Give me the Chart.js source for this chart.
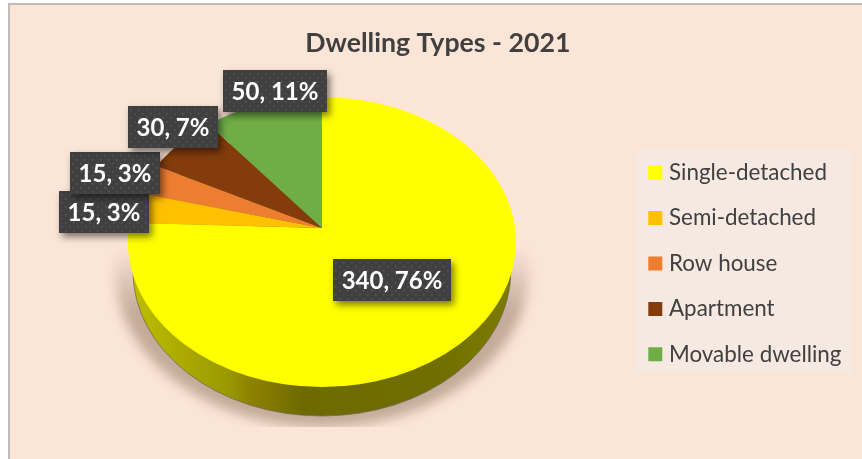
<!DOCTYPE html>
<html>
<head>
<meta charset="utf-8">
<title>Dwelling Types - 2021</title>
<script src="https://cdn.jsdelivr.net/npm/chart.js@4"></script>
<style>
	html, body { margin: 0; padding: 0; background: #fff; }
	canvas { display: block; }
</style>
</head>
<body>
<canvas id="dwellingChart" width="862" height="459"></canvas>
<script>
var categories = ['Single-detached', 'Semi-detached', 'Row house', 'Apartment', 'Movable dwelling'];
var dwellings = [340, 15, 15, 30, 50];
var sliceColors = ['#FFFF00', '#FFC000', '#ED7D31', '#843C0C', '#70AD47'];

var FONT = 'Lato, "Open Sans", sans-serif';

// tilt of the pie: wedges fan out of the apex, the rim is a separate ellipse around it
var tilt = {
	apexShiftX: -5, apexShiftY: -35.5, wedgeRx: 242, wedgeRy: 186,
	rimRx: 194, rimRy: 145, rimDropY: 14,
	wallDepth: 29, wallRx: 189
};
// label box, moved from its spot along the slice's mid angle
var labelReach = [0.4, 0.7, 0.9, 0.8, 0.7];
var labelNudge = [[3, -1.5], [-50, 2], [-2, 2], [3.5, -9], [11, -15]];

function apexOf(arc) {
	return { x: arc.x + tilt.apexShiftX, y: arc.y + tilt.apexShiftY };
}

var backgroundPlugin = {
	id: 'background',
	beforeDraw: function (chart) {
		var ctx = chart.ctx, lg = chart.legend;
		ctx.save();
		ctx.fillStyle = '#BFBBB8';
		ctx.fillRect(8, 3, chart.width - 8, chart.height - 3);
		ctx.fillStyle = '#FBE5D6';
		ctx.fillRect(10, 5, chart.width - 10, chart.height - 5);
		ctx.fillStyle = '#F6E9E1';
		ctx.fillRect(lg.left + 6.5, 149, 216, 224);
		ctx.restore();
	}
};

var tiltedPiePlugin = {
	id: 'tiltedPie',
	beforeDatasetDraw: function (chart, args) {
		var ctx = chart.ctx;
		var arcs = args.meta.data;
		var apex = apexOf(arcs[0]);
		var rimY = apex.y + tilt.rimDropY;
		var wallY = rimY + tilt.wallDepth;
		var R = arcs[0].outerRadius;

		// soft shadow under the pie, fades upward and is cut flat at the bottom
		var shade = ctx.createLinearGradient(0, rimY + 5, 0, rimY + 70);
		shade.addColorStop(0, 'rgba(120, 90, 70, 0)');
		shade.addColorStop(1, 'rgba(120, 90, 70, 0.42)');
		ctx.save();
		ctx.beginPath();
		ctx.rect(apex.x - 240, rimY, 480, 185);
		ctx.clip();
		ctx.filter = 'blur(6px)';
		ctx.fillStyle = shade;
		ctx.beginPath();
		ctx.ellipse(apex.x, wallY, tilt.rimRx + 13, tilt.rimRy + 11, 0, 0, Math.PI * 2);
		ctx.fill();
		ctx.restore();

		// side wall
		var grad = ctx.createLinearGradient(apex.x - tilt.wallRx, 0, apex.x + tilt.wallRx, 0);
		grad.addColorStop(0, '#BDBD00');
		grad.addColorStop(0.25, '#9A9A00');
		grad.addColorStop(0.31, '#8E8200');
		grad.addColorStop(0.45, '#6E6A00');
		grad.addColorStop(0.8, '#6F6F00');
		grad.addColorStop(1, '#7C7C00');
		ctx.save();
		ctx.fillStyle = grad;
		ctx.strokeStyle = 'rgba(110, 100, 90, 0.7)';
		ctx.lineWidth = 1;
		ctx.beginPath();
		ctx.ellipse(apex.x, wallY, tilt.wallRx, tilt.rimRy, 0, 0, Math.PI * 2);
		ctx.fill();
		ctx.stroke();
		ctx.restore();

		// top face: the library's arcs, squashed and clipped to the rim
		ctx.save();
		ctx.beginPath();
		ctx.ellipse(apex.x, rimY, tilt.rimRx, tilt.rimRy, 0, 0, Math.PI * 2);
		ctx.clip();
		ctx.translate(apex.x, apex.y);
		ctx.scale(tilt.wedgeRx / R, tilt.wedgeRy / R);
		ctx.translate(-arcs[0].x, -arcs[0].y);
		arcs.forEach(function (arc) { arc.draw(ctx); });
		ctx.restore();
		return false;
	},
	afterDatasetsDraw: function (chart) {
		var ctx = chart.ctx;
		var arcs = chart.getDatasetMeta(0).data;
		var total = dwellings.reduce(function (a, b) { return a + b; }, 0);
		ctx.save();
		ctx.font = 'bold 24px ' + FONT;
		ctx.textAlign = 'center';
		ctx.textBaseline = 'middle';
		arcs.forEach(function (arc, i) {
			var apex = apexOf(arc);
			var mid = (arc.startAngle + arc.endAngle) / 2;
			var cx = apex.x + Math.cos(mid) * tilt.wedgeRx * labelReach[i] + labelNudge[i][0];
			var cy = apex.y + Math.sin(mid) * tilt.wedgeRy * labelReach[i] + labelNudge[i][1];
			var text = dwellings[i] + ', ' + Math.round(dwellings[i] / total * 100) + '%';
			var w = Math.round(ctx.measureText(text).width + 17);
			var h = 42;
			var x = Math.round(cx - w / 2), y = Math.round(cy - h / 2);

			ctx.save();
			ctx.shadowColor = 'rgba(0, 0, 0, 0.5)';
			ctx.shadowBlur = 7;
			ctx.shadowOffsetX = 3;
			ctx.shadowOffsetY = 4;
			ctx.fillStyle = '#404040';
			ctx.fillRect(x, y, w, h);
			ctx.restore();

			ctx.fillStyle = 'rgba(255, 255, 255, 0.13)';
			for (var dy = 3, row = 0; dy < h; dy += 4, row++) {
				for (var dx = row % 2 ? 6 : 2; dx < w; dx += 8) {
					ctx.fillRect(x + dx, y + dy, 1.5, 1.5);
				}
			}
			ctx.fillStyle = '#FFFFFF';
			ctx.fillText(text, x + w / 2, y + h / 2 + 1);
		});
		ctx.restore();
	}
};

new Chart(document.getElementById('dwellingChart').getContext('2d'), {
	type: 'pie',
	data: {
		labels: categories,
		datasets: [{
			data: dwellings,
			backgroundColor: sliceColors,
			borderWidth: 0
		}]
	},
	options: {
		responsive: false,
		animation: false,
		layout: { padding: { left: 24, right: 10.5, top: 20 } },
		plugins: {
			title: {
				display: true,
				text: 'Dwelling Types - 2021',
				color: '#404040',
				font: { family: FONT, size: 26.7, weight: 'bold' },
				padding: { top: 7, bottom: 9 }
			},
			legend: {
				position: 'right',
				fullSize: false,
				labels: {
					// small box with a thick same-colour stroke: keeps the text close to the swatch
					boxWidth: 5,
					boxHeight: 5,
					padding: 23,
					color: '#404040',
					font: { family: FONT, size: 22.4 },
					generateLabels: function (chart) {
						var items = Chart.overrides.pie.plugins.legend.labels.generateLabels(chart);
						items.forEach(function (item) {
							item.strokeStyle = item.fillStyle;
							item.lineWidth = 9;
						});
						return items;
					}
				}
			},
			tooltip: { enabled: false }
		}
	},
	plugins: [backgroundPlugin, tiltedPiePlugin]
});
</script>
</body>
</html>
